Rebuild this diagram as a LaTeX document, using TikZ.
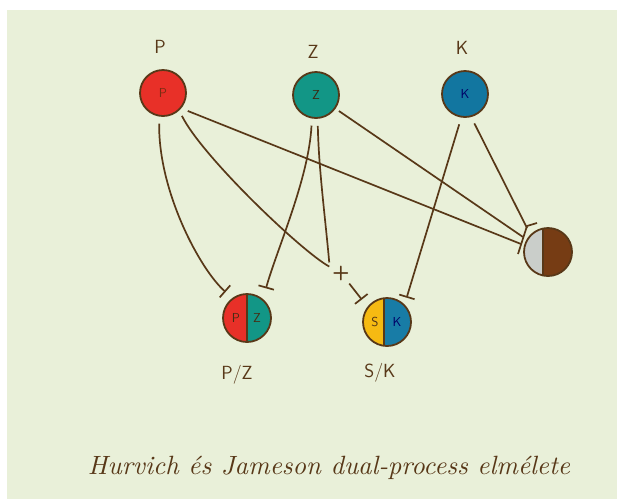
\documentclass[tikz,border=0pt]{standalone}
\usetikzlibrary{arrows.meta,calc}

\definecolor{paper}{RGB}{233,240,217}
\definecolor{ink}{RGB}{88,56,24}
\definecolor{cred}{RGB}{232,48,40}
\definecolor{cteal}{RGB}{18,150,134}
\definecolor{cblue}{RGB}{18,118,160}
\definecolor{cyellow}{RGB}{246,186,18}
\definecolor{cskblue}{RGB}{24,124,166}
\definecolor{cgray}{RGB}{202,206,202}
\definecolor{cbrown}{RGB}{118,60,20}

\begin{document}
\begin{tikzpicture}[x=1pt,y=-1pt,
  disc/.style={circle, draw=ink, line width=1.8pt, fill=#1, minimum size=46pt,
    inner sep=0pt, font=\sffamily\fontsize{13}{13}\selectfont},
  halves/.style n args={3}{circle, draw=ink, line width=1.8pt, minimum size=48pt,
    inner sep=0pt,
    path picture={
      \fill[#1] ([xshift=#3]path picture bounding box.south) rectangle
                (path picture bounding box.north west);
      \fill[#2] ([xshift=#3]path picture bounding box.north) rectangle
                (path picture bounding box.south east);
      \draw[ink, line width=1.4pt] ([xshift=#3]path picture bounding box.south)
                -- ([xshift=#3]path picture bounding box.north);}},
  inl/.style={font=\sffamily\fontsize{13}{13}\selectfont, text=#1, inner sep=0pt},
  lbl/.style={font=\sffamily\fontsize{19}{19}\selectfont, text=ink, inner sep=1pt},
  wire/.style={draw=ink, line width=1.7pt},
  inh/.style={wire, -{Bar[width=16pt, line width=1.7pt]}},
]
\useasboundingbox (0,0) rectangle (617,499);
\fill[white] (0,0) rectangle (617,499);
\fill[paper] (7,10) rectangle (617,499);

% receptor-level discs
\node[disc=cred]  (p) at (163,93) {\textcolor{ink!80!red}{P}};
\node[disc=cteal] (z) at (316,95) {\textcolor{ink!70!black}{Z}};
\node[disc=cblue] (k) at (465,94) {\textcolor{blue!40!black}{K}};

\node[lbl] (lp) at (160,47) {P};
\node[lbl] (lz) at (313,52) {Z};
\node[lbl] (lk) at (462,48) {K};

% opponent discs
\node[halves={cred}{cteal}{0pt}]     (pz) at (247,318) {};
\node[halves={cyellow}{cskblue}{-3pt}] (sk) at (387,322) {};
\node[halves={cgray}{cbrown}{-5pt}]  (gb) at (548,252) {};

\node[inl=ink!80!black] (pzP) at ($(pz.center)+(-11,0)$) {P};
\node[inl=ink!80!black] (pzZ) at ($(pz.center)+(10,0)$) {Z};
\node[inl=ink!90!black] (skS) at ($(sk.center)+(-12,0)$) {S};
\node[inl=blue!40!black] (skK) at ($(sk.center)+(10,0)$) {K};

\node[lbl] (lpz) at (237,375) {P/Z};
\node[lbl] (lsk) at (380,373) {S/K};

% summing point
\node[font=\sffamily\bfseries\fontsize{20}{20}\selectfont, text=ink, inner sep=3pt] (plus) at (341,273) {+};

% shared inhibitory bar at the achromatic disc
\coordinate (gbA) at (518,254);
\coordinate (gbB) at (527,226);
\coordinate (gbC) at (537,223);
\coordinate (gP) at (521,244);
\coordinate (gZ) at (523,237);
\coordinate (gK) at (527,228);
\draw[wire] (gbA) -- (gbB) -- (gbC);

% P and Z to P/Z
\draw[inh, shorten <=7pt, shorten >=9pt] (p.-99) .. controls +(-1,75) and +(-32,-28) .. (pz.126);
\draw[inh, shorten <=7pt, shorten >=11pt] (z.-100) .. controls +(-3,60) and +(14,-50) .. (pz.50);

% P and Z summed, then to S/K
\draw[wire, shorten <=6pt] (p.-47) .. controls +(22,45) and +(-40,-22) .. (plus);
\draw[wire, shorten <=7pt] (z.-86) .. controls +(1,50) and +(-4,-45) .. (plus.north west);
\draw[inh, shorten >=9pt] (plus) -- (sk.142);

% K to S/K
\draw[inh, shorten <=7pt, shorten >=7pt] (k.-99) -- (sk.45);

% all three to the achromatic channel
\draw[wire, shorten <=7pt] (p.-40) -- (gP);
\draw[wire, shorten <=4pt] (z.-35) -- (gZ);
\draw[wire, shorten <=7pt] (k.-75) -- (gK);

% caption
\node[text=ink, inner sep=0pt] (cap) at (329,468)
  {\resizebox{482pt}{!}{\itshape Hurvich és Jameson dual-process elmélete}};
\end{tikzpicture}
\end{document}
